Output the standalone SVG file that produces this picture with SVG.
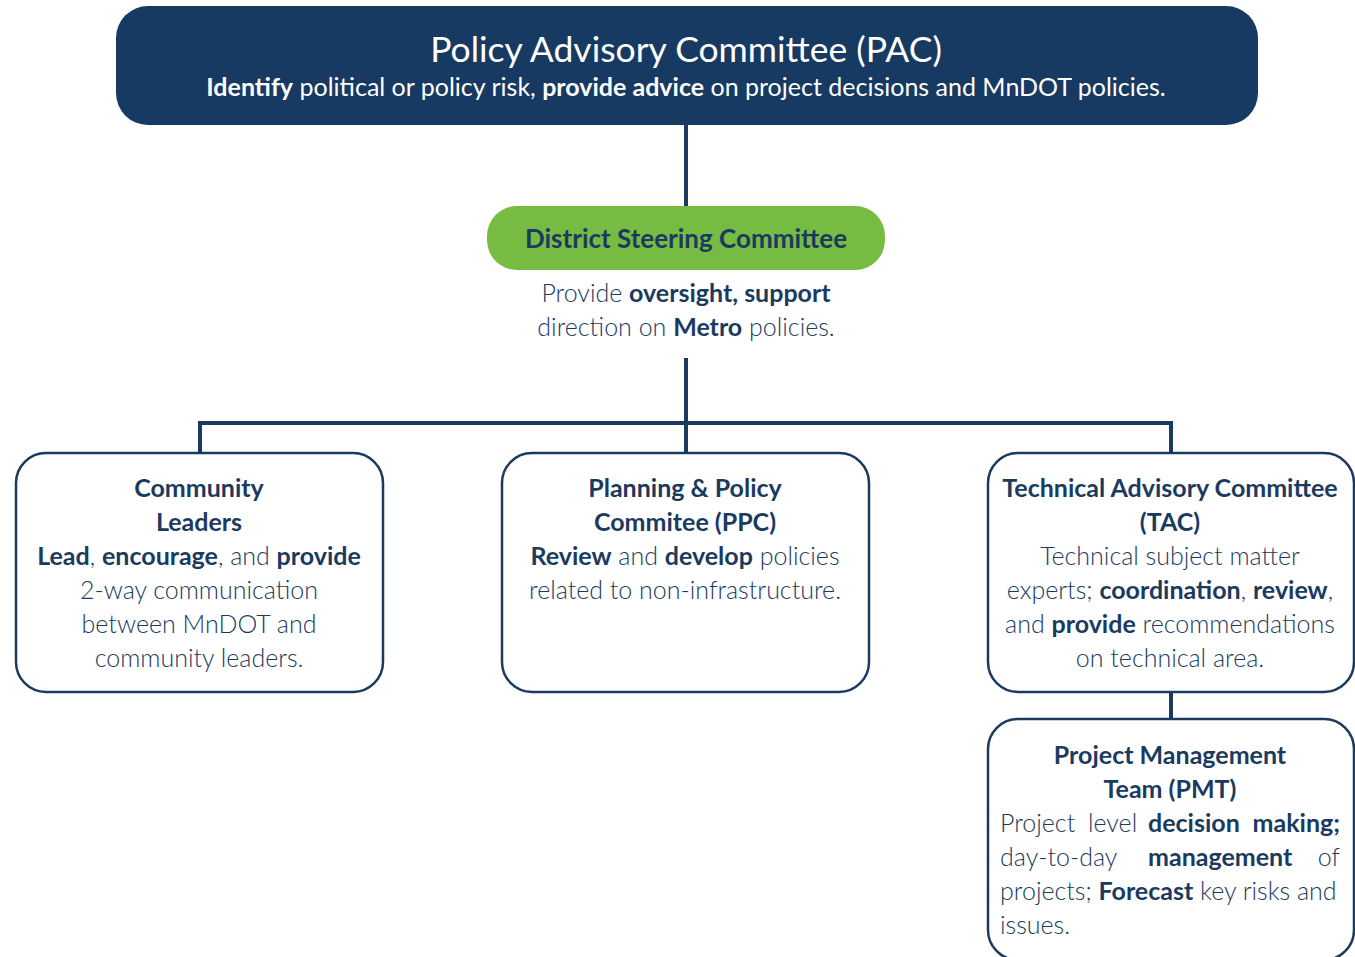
<svg xmlns="http://www.w3.org/2000/svg" width="1355" height="957" viewBox="0 0 1355 957">
<style>
text{font-family:Lato,"Noto Sans",sans-serif;fill:#1b3a60;text-anchor:middle}
.l{font-weight:300}
.b{font-weight:700}
.s{text-anchor:start}
.e{text-anchor:end}
.box{fill:#fff;stroke:#1b3a60;stroke-width:2.5}
.w{fill:#fff}
.c{stroke:#1b3a60;stroke-width:4;fill:none}
.bt{font-size:25px}
</style>
<rect width="1355" height="957" fill="#fff"/>
<g id="connectors">
<path class="c" d="M686 125V206M686 358V423M200 453V423H1171V453M686 423V453M1171 692V719"/>
</g>
<g id="pac">
<rect x="116" y="6" width="1142" height="119" rx="32" fill="#173a62"/>
<text x="686" y="62" class="w" style="font-size:35.5px;fill:#fff">Policy Advisory Committee (PAC)</text>
<text x="686" y="96" style="font-size:25px;fill:#fff"><tspan class="b">Identify</tspan> political or policy risk, <tspan class="b">provide advice</tspan> on project decisions and MnDOT policies.</text>
</g>
<g id="dsc">
<rect x="487" y="206" width="398" height="64" rx="30" fill="#76bc43"/>
<text x="686" y="248" class="b" style="font-size:26px">District Steering Committee</text>
<text x="686" y="302" style="font-size:25px"><tspan class="l">Provide </tspan><tspan class="b">oversight, support</tspan></text>
<text x="686" y="336" style="font-size:25px"><tspan class="l">direction on </tspan><tspan class="b">Metro</tspan><tspan class="l"> policies.</tspan></text>
</g>
<g id="community" class="bt">
<rect class="box" x="16" y="453" width="367" height="239" rx="30"/>
<text x="199" y="497" class="b">Community</text>
<text x="199" y="531" class="b">Leaders</text>
<text x="199" y="565"><tspan class="b">Lead</tspan><tspan class="l">, </tspan><tspan class="b">encourage</tspan><tspan class="l">, and </tspan><tspan class="b">provide</tspan></text>
<text x="199" y="599" class="l">2-way communication</text>
<text x="199" y="633" class="l">between MnDOT and</text>
<text x="199" y="667" class="l">community leaders.</text>
</g>
<g id="ppc" class="bt">
<rect class="box" x="502" y="453" width="367" height="239" rx="30"/>
<text x="685" y="497" class="b">Planning &amp; Policy</text>
<text x="685" y="531" class="b">Commitee (PPC)</text>
<text x="685" y="565"><tspan class="b">Review</tspan><tspan class="l"> and </tspan><tspan class="b">develop</tspan><tspan class="l"> policies</tspan></text>
<text x="685" y="599" class="l">related to non-infrastructure.</text>
</g>
<g id="tac" class="bt">
<rect class="box" x="988" y="453" width="366" height="239" rx="30"/>
<text x="1170" y="497" class="b">Technical Advisory Committee</text>
<text x="1170" y="531" class="b">(TAC)</text>
<text x="1170" y="565" class="l">Technical subject matter</text>
<text x="1170" y="599"><tspan class="l">experts; </tspan><tspan class="b">coordination</tspan><tspan class="l">, </tspan><tspan class="b">review</tspan><tspan class="l">,</tspan></text>
<text x="1170" y="633"><tspan class="l">and </tspan><tspan class="b">provide</tspan><tspan class="l"> recommendations</tspan></text>
<text x="1170" y="667" class="l">on technical area.</text>
</g>
<g id="pmt" class="bt">
<rect class="box" x="988" y="719" width="366" height="241" rx="30"/>
<text x="1170" y="764" class="b">Project Management</text>
<text x="1170" y="798" class="b">Team (PMT)</text>
<text x="1000" y="832" class="l s">Project</text>
<text x="1088" y="832" class="l s">level</text>
<text x="1148" y="832" class="b s">decision</text>
<text x="1340" y="832" class="b e">making;</text>
<text x="1000" y="866" class="l s">day-to-day</text>
<text x="1148" y="866" class="b s">management</text>
<text x="1340" y="866" class="l e">of</text>
<text x="1000" y="900" class="s"><tspan class="l">projects; </tspan><tspan class="b">Forecast</tspan><tspan class="l"> key risks and</tspan></text>
<text x="1000" y="934" class="l s">issues.</text>
</g>
</svg>
